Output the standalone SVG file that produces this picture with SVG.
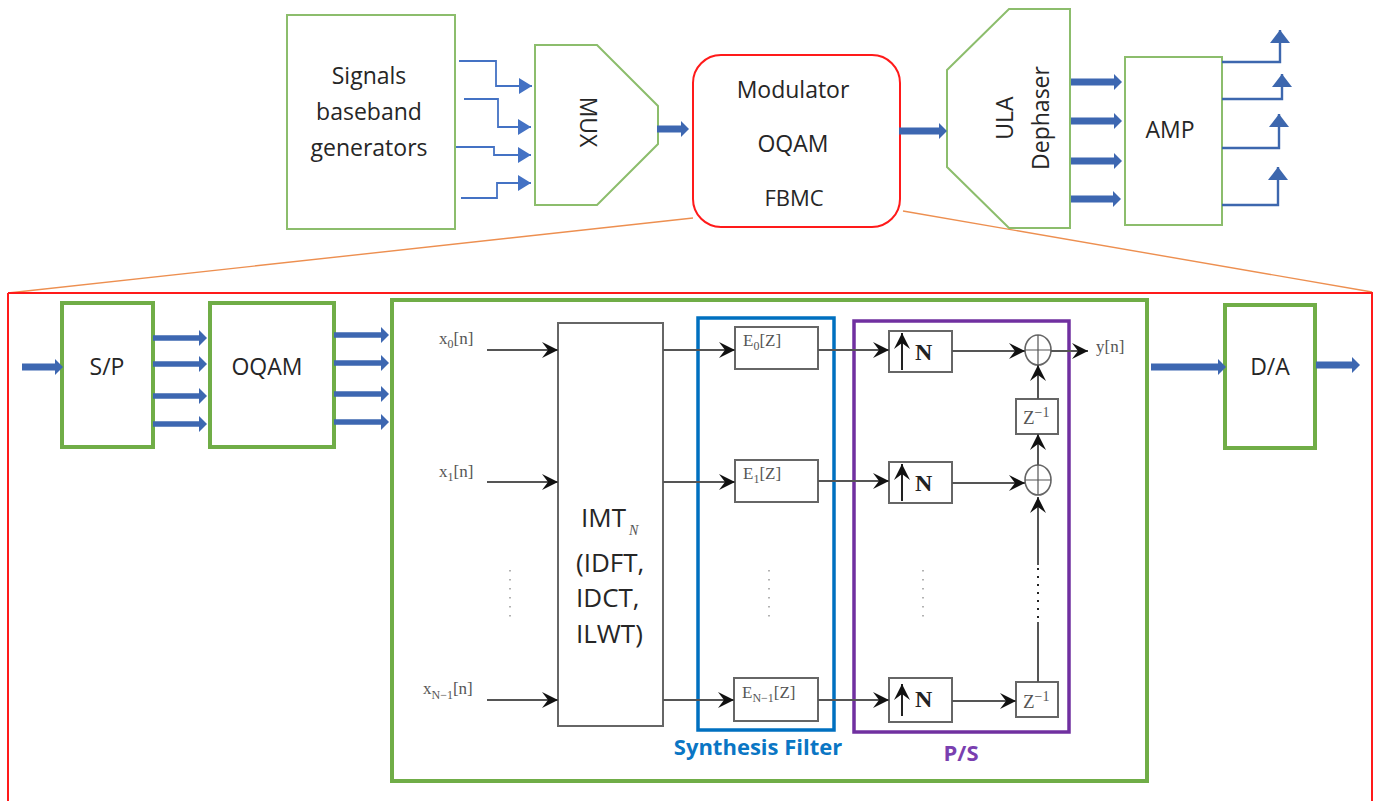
<svg xmlns="http://www.w3.org/2000/svg" width="1381" height="801" viewBox="0 0 1381 801">
<style>
text{font-family:"Open Sans","Liberation Sans",sans-serif;fill:#262626;font-size:23px}
.m{text-anchor:middle}
.g1{fill:#fff;stroke:#8cbd6c;stroke-width:2}
.g2{fill:none;stroke:#70ad47;stroke-width:4}
.bx{fill:#fff;stroke:#666;stroke-width:2}
.th{fill:none;stroke:#4472c4;stroke-width:1.8}
.th2{fill:none;stroke:#3d67ae;stroke-width:2.4}
.bl{fill:none;stroke:#3d67b1;stroke-width:7}
.bl2{fill:none;stroke:#3d67b1;stroke-width:5.5}
.k{fill:none;stroke:#555;stroke-width:2}
.o{fill:none;stroke:#ed8f50;stroke-width:1.4}
.s{font-family:"Liberation Serif",serif;font-size:17px;fill:#555}
.ss{font-size:12px}
.b{font-family:"Liberation Serif",serif;font-weight:bold;font-size:24px;fill:#222}
.d{fill:none;stroke:#999;stroke-width:1.5;stroke-dasharray:1.5 7.5}
.imt{font-size:26px}
.lbl{font-weight:bold;font-size:22px}
.up{stroke:#222;stroke-width:2}
</style>
<defs>
<marker id="ab" markerUnits="userSpaceOnUse" markerWidth="10" markerHeight="18" refX="0" refY="9" orient="auto"><path d="M0,1L8,9L0,17z" fill="#3d67b1"/></marker>
<marker id="at" markerUnits="userSpaceOnUse" markerWidth="14" markerHeight="16" refX="13" refY="8" orient="auto"><path d="M0,0L13,8L0,16z" fill="#4472c4"/></marker>
<marker id="au" markerUnits="userSpaceOnUse" markerWidth="15" markerHeight="24" refX="13" refY="12" orient="auto"><path d="M0,2L13,12L0,22z" fill="#3d67ae"/></marker>
<marker id="ak" markerUnits="userSpaceOnUse" markerWidth="17" markerHeight="18" refX="16" refY="9" orient="auto"><path d="M0,1L16,9L0,17L6,9z" fill="#111"/></marker>
</defs>

<g id="wrap-lines">
<path class="o" d="M693,218L8,293"/>
<path class="o" d="M903,211L1372,292"/>
</g>
<g id="outer-frame"><path d="M8,293H1372V801M8,293V801" fill="none" stroke="#ff1a1a" stroke-width="2"/></g>

<g id="signals"><rect class="g1" x="287" y="15" width="168" height="214"/>
<text class="m" x="369" y="84">Signals</text><text class="m" x="369" y="120">baseband</text><text class="m" x="369" y="156">generators</text></g>
<g id="mux"><path class="g1" d="M535,45H597L658,106V144L597,205H535z"/>
<text class="m" transform="translate(580,122) rotate(90)">MUX</text></g>
<g id="modulator"><rect x="693" y="55" width="207" height="172" rx="28" fill="#fff" stroke="#ff1a1a" stroke-width="2"/>
<text class="m" x="793" y="98">Modulator</text><text class="m" x="793" y="152">OQAM</text><text class="m" x="794" y="206" style="font-size:22px">FBMC</text></g>
<g id="dephaser"><path class="g1" d="M947,70L1009,9H1070V228H1009L947,167z"/>
<text class="m" transform="translate(1013,118) rotate(-90)">ULA</text><text class="m" transform="translate(1049,118) rotate(-90)">Dephaser</text></g>
<g id="amp"><rect class="g1" x="1125" y="57" width="97" height="168"/><text class="m" x="1170" y="138">AMP</text></g>

<g id="sp"><rect class="g2" x="62" y="303" width="91" height="144"/><text class="m" x="107" y="375">S/P</text></g>
<g id="oqam"><rect class="g2" x="210" y="303" width="124" height="144"/><text class="m" x="267" y="375">OQAM</text></g>
<g id="transmux"><rect class="g2" x="392" y="300" width="755" height="481"/></g>
<g id="da"><rect class="g2" x="1225" y="305" width="90" height="143"/><text class="m" x="1270" y="375">D/A</text></g>

<g id="imt"><rect class="bx" x="558" y="323" width="105" height="403"/>
<text class="imt" x="581" y="527">IMT</text><text x="629" y="535" style="font-family:'Liberation Serif',serif;font-style:italic;font-size:14px;fill:#555">N</text>
<text class="imt" x="576" y="572">(IDFT,</text><text class="imt" x="576" y="607">IDCT,</text><text class="imt" x="576" y="643">ILWT)</text></g>

<g id="e0"><rect class="bx" x="735" y="327" width="83" height="42"/><text class="s" x="743" y="346">E<tspan class="ss" dy="4">0</tspan><tspan dy="-4">[Z]</tspan></text></g>
<g id="e1"><rect class="bx" x="735" y="460" width="83" height="42"/><text class="s" x="743" y="479">E<tspan class="ss" dy="4">1</tspan><tspan dy="-4">[Z]</tspan></text></g>
<g id="en"><rect class="bx" x="734" y="678" width="84" height="43"/><text class="s" x="742" y="698">E<tspan class="ss" dy="4">N−1</tspan><tspan dy="-4">[Z]</tspan></text></g>

<g id="n0"><rect class="bx" x="889" y="331" width="63" height="41"/><text class="b" x="915" y="360">N</text></g>
<g id="n1"><rect class="bx" x="889" y="462" width="63" height="41"/><text class="b" x="915" y="491">N</text></g>
<g id="n2"><rect class="bx" x="889" y="678" width="63" height="44"/><text class="b" x="915" y="707">N</text></g>

<g id="sum0"><ellipse cx="1038" cy="350" rx="13" ry="15" fill="#fff" stroke="#666" stroke-width="1.6"/><path d="M1025,350H1051M1038,335V365" stroke="#555" stroke-width="1.2"/></g>
<g id="sum1"><ellipse cx="1038" cy="480" rx="13" ry="15" fill="#fff" stroke="#666" stroke-width="1.6"/><path d="M1025,480H1051M1038,465V495" stroke="#555" stroke-width="1.2"/></g>
<g id="z0"><rect class="bx" x="1016" y="399" width="42" height="35"/><text class="s" x="1023" y="424" style="font-size:19px">Z<tspan class="ss" dy="-7" style="font-size:14px">−1</tspan></text></g>
<g id="z1"><rect class="bx" x="1016" y="682" width="42" height="35"/><text class="s" x="1023" y="708" style="font-size:19px">Z<tspan class="ss" dy="-7" style="font-size:14px">−1</tspan></text></g>

<g id="synthesis-frame"><rect x="698" y="318" width="136" height="412" fill="none" stroke="#0070c0" stroke-width="3.5"/></g>
<g id="ps-frame"><rect x="854" y="321" width="215" height="411" fill="none" stroke="#7030a0" stroke-width="3.5"/></g>

<g id="connectors">
<path class="th" marker-end="url(#at)" d="M459,61H496V86H532"/>
<path class="th" marker-end="url(#at)" d="M464,99H498V127H531"/>
<path class="th" marker-end="url(#at)" d="M456,147H494V155H531"/>
<path class="th" marker-end="url(#at)" d="M461,198H497V183H531"/>
<path class="bl" marker-end="url(#ab)" d="M657,129H681"/>
<path class="bl" marker-end="url(#ab)" d="M899,131H939"/>
<path class="bl" marker-end="url(#ab)" d="M1071,82H1114"/>
<path class="bl" marker-end="url(#ab)" d="M1071,121H1114"/>
<path class="bl" marker-end="url(#ab)" d="M1071,161H1114"/>
<path class="bl" marker-end="url(#ab)" d="M1071,199H1113"/>
<path class="th2" marker-end="url(#au)" d="M1222,62H1280V30"/>
<path class="th2" marker-end="url(#au)" d="M1222,99H1282V74"/>
<path class="th2" marker-end="url(#au)" d="M1222,148H1279V114"/>
<path class="th2" marker-end="url(#au)" d="M1222,205H1278V167"/>

<path class="bl" marker-end="url(#ab)" d="M22,367H55"/>
<path class="bl2" marker-end="url(#ab)" d="M153,338H199"/>
<path class="bl2" marker-end="url(#ab)" d="M153,364H199"/>
<path class="bl2" marker-end="url(#ab)" d="M153,396H199"/>
<path class="bl2" marker-end="url(#ab)" d="M153,424H199"/>
<path class="bl2" marker-end="url(#ab)" d="M334,335H381"/>
<path class="bl2" marker-end="url(#ab)" d="M334,363H381"/>
<path class="bl2" marker-end="url(#ab)" d="M334,394H381"/>
<path class="bl2" marker-end="url(#ab)" d="M334,422H381"/>
<path class="bl" marker-end="url(#ab)" d="M1151,367H1218"/>
<path class="bl" marker-end="url(#ab)" d="M1316,365H1352"/>

<path class="k" marker-end="url(#ak)" d="M487,350H558"/>
<path class="k" marker-end="url(#ak)" d="M487,482H558"/>
<path class="k" marker-end="url(#ak)" d="M487,700H558"/>
<path class="k" marker-end="url(#ak)" d="M663,350H735"/>
<path class="k" marker-end="url(#ak)" d="M663,482H735"/>
<path class="k" marker-end="url(#ak)" d="M663,700H734"/>
<path class="k" marker-end="url(#ak)" d="M818,350H889"/>
<path class="k" marker-end="url(#ak)" d="M818,481H889"/>
<path class="k" marker-end="url(#ak)" d="M818,700H889"/>
<path class="k" marker-end="url(#ak)" d="M952,351H1025"/>
<path class="k" marker-end="url(#ak)" d="M952,483H1025"/>
<path class="k" marker-end="url(#ak)" d="M952,701H1016"/>
<path class="k" marker-end="url(#ak)" d="M1051,351H1088"/>
<path class="k" marker-end="url(#ak)" d="M1038,399V365"/>
<path class="k" marker-end="url(#ak)" d="M1038,465V434"/>
<path class="k" marker-end="url(#ak)" d="M1038,565V497"/>
<path class="k" d="M1038,622V682"/>
<path d="M1038,568V622" fill="none" stroke="#222" stroke-width="2" stroke-dasharray="2 6"/>
<path class="k up" marker-end="url(#ak)" d="M902,370V333"/>
<path class="k up" marker-end="url(#ak)" d="M902,501V464"/>
<path class="k up" marker-end="url(#ak)" d="M902,716V684"/>
<path class="d" d="M510,570V624"/>
<path class="d" d="M769,570V622"/>
<path class="d" d="M923,570V624"/>
</g>

<g id="labels">
<text class="s" x="439" y="344">x<tspan class="ss" dy="4">0</tspan><tspan dy="-4">[n]</tspan></text>
<text class="s" x="439" y="477">x<tspan class="ss" dy="4">1</tspan><tspan dy="-4">[n]</tspan></text>
<text class="s" x="423" y="694">x<tspan class="ss" dy="5">N−1</tspan><tspan dy="-5">[n]</tspan></text>
<text class="s" x="1096" y="352">y[n]</text>
<text class="m lbl" x="758" y="755" style="fill:#0a76c4">Synthesis Filter</text>
<text class="m lbl" x="961" y="761" style="fill:#7a3fb0">P/S</text>
</g>
</svg>
